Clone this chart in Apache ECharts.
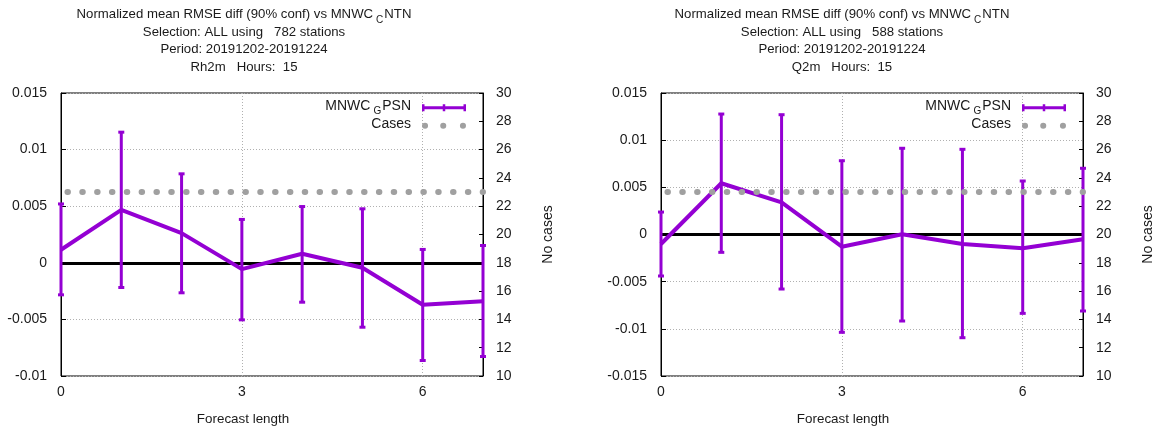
<!DOCTYPE html>
<html>
<head>
<meta charset="utf-8">
<script src="https://cdn.jsdelivr.net/npm/echarts@6/dist/echarts.min.js"></script>
<style>
  html, body { margin: 0; padding: 0; background: #fff; }
  #chart { width: 1161px; height: 434px; }
</style>
</head>
<body>
<div id="chart"></div>
<script>
// forecast length (hours)
const hours = [0, 1, 2, 3, 4, 5, 6, 7]

// Rh2m, 782 stations
const rh2mMean = [0.00115, 0.00468, 0.00262, -0.00056, 0.0008, -0.00044, -0.00371, -0.00339]
const rh2mLow = [-0.00283, -0.00218, -0.00265, -0.00504, -0.00348, -0.00569, -0.00863, -0.00828]
const rh2mHigh = [0.0052, 0.01154, 0.00786, 0.00383, 0.00497, 0.00477, 0.00118, 0.00153]
const rh2mCases = [23, 23, 23, 23, 23, 23, 23, 23]

// Q2m, 588 stations
const q2mMean = [-0.00101, 0.00543, 0.00341, -0.00129, 0.00002, -0.00101, -0.00146, -0.00051]
const q2mLow = [-0.0044, -0.00189, -0.00578, -0.01037, -0.00917, -0.01094, -0.00836, -0.00811]
const q2mHigh = [0.00238, 0.01277, 0.0127, 0.00782, 0.00914, 0.00903, 0.00567, 0.00702]
const q2mCases = [23, 23, 23, 23, 23, 23, 23, 23]

// axis ranges
const rh2mRange = [-0.01, 0.015]
const q2mRange = [-0.015, 0.015]
const casesRange = [10, 30]

const PURPLE = '#9400d3'
const GREY = '#a0a0a0'
const FONT = "'Liberation Sans', Arial, sans-serif"
const TXT = '#1a1a1a'

const ERR_ICON = 'path://M0,2 h44 v3 h-44 Z M0,0 h2.5 v7 h-2.5 Z M20.75,0 h2.5 v7 h-2.5 Z M41.5,0 h2.5 v7 h-2.5 Z'
const DOT_ICON = 'path://M0,3 a3,3 0 1,0 6,0 a3,3 0 1,0 -6,0 Z M18,3 a3,3 0 1,0 6,0 a3,3 0 1,0 -6,0 Z M37.5,3 a3,3 0 1,0 6,0 a3,3 0 1,0 -6,0 Z'

// legend text
const legendRich = {
  a: { fontFamily: FONT, fontSize: 14, fontWeight: 'normal', color: TXT, lineHeight: 17.5, verticalAlign: 'top' },
  s: { fontFamily: FONT, fontSize: 10, fontWeight: 'normal', color: TXT, lineHeight: 8, verticalAlign: 'bottom', padding: [0, 1, 0, 3] }
}
// title text, a bit narrower
const titleRich = {
  a: { fontFamily: FONT, fontSize: 13.2, fontWeight: 'normal', color: TXT, lineHeight: 17.5, verticalAlign: 'top' },
  s: { fontFamily: FONT, fontSize: 10, fontWeight: 'normal', color: TXT, lineHeight: 8, verticalAlign: 'bottom', padding: [0, 1, 0, 3] }
}

function titleText(varName, stations) {
  return [
    '{a|Normalized mean RMSE diff (90% conf) vs MNWC}{s|C}{a|NTN}',
    '{a|Selection: ALL using   ' + stations + ' stations}',
    '{a|Period: 20191202-20191224}',
    '{a|' + varName + '   Hours:  15}'
  ].join('\n')
}

function fmtTick(v) {
  return String(+v.toFixed(4))
}

function errorBars(params, api) {
  const x = api.value(0)
  const lo = api.coord([x, api.value(1)])
  const hi = api.coord([x, api.value(2)])
  const w = 3
  const style = { stroke: PURPLE, lineWidth: 3 }
  return {
    type: 'group',
    children: [
      { type: 'line', shape: { x1: lo[0], y1: lo[1], x2: hi[0], y2: hi[1] }, style },
      { type: 'line', shape: { x1: lo[0] - w, y1: lo[1], x2: lo[0] + w, y2: lo[1] }, style },
      { type: 'line', shape: { x1: hi[0] - w, y1: hi[1], x2: hi[0] + w, y2: hi[1] }, style }
    ]
  }
}

function xAxisFor(gi) {
  return {
    type: 'value', gridIndex: gi, min: 0, max: 7, interval: 3,
    axisLine: { show: true, lineStyle: { color: '#000' } },
    axisTick: { show: true, inside: true, length: 5, lineStyle: { color: '#000' } },
    axisLabel: { fontFamily: FONT, fontSize: 14, color: TXT, margin: 9, showMaxLabel: false },
    splitLine: { show: true, lineStyle: { color: '#b0b0b0', type: [1, 2] } }
  }
}

function leftAxisFor(gi, range) {
  return {
    type: 'value', gridIndex: gi, min: range[0], max: range[1], interval: 0.005,
    axisLine: { show: true, lineStyle: { color: '#000' } },
    axisTick: { show: true, inside: true, length: 5, lineStyle: { color: '#000' } },
    axisLabel: { fontFamily: FONT, fontSize: 14, color: TXT, margin: 14, formatter: fmtTick },
    splitLine: { show: true, lineStyle: { color: '#b0b0b0', type: [1, 2] } }
  }
}

function rightAxisFor(gi) {
  return {
    type: 'value', gridIndex: gi, position: 'right', min: casesRange[0], max: casesRange[1], interval: 2,
    name: 'No cases', nameLocation: 'middle', nameRotate: 90, nameGap: 58,
    nameTextStyle: { fontFamily: FONT, fontSize: 14, color: TXT },
    axisLine: { show: true, lineStyle: { color: '#000' } },
    axisTick: { show: true, inside: true, length: 4, lineStyle: { color: '#000' } },
    axisLabel: { fontFamily: FONT, fontSize: 14, color: TXT, margin: 13 },
    splitLine: { show: false }
  }
}

function seriesFor(gi, mean, low, high, cases) {
  const xi = gi, yi = gi * 2
  return [
    {
      name: 'errbars', type: 'custom', xAxisIndex: xi, yAxisIndex: yi, z: 3,
      renderItem: errorBars,
      data: hours.map((h, i) => [h, low[i], high[i]]),
      markLine: {
        silent: true, symbol: 'none', z: 2, label: { show: false },
        lineStyle: { color: '#000', width: 3, type: 'solid' },
        data: [{ yAxis: 0 }]
      }
    },
    {
      name: 'MNWC_GPSN', type: 'line', xAxisIndex: xi, yAxisIndex: yi, z: 4,
      symbol: 'none', color: PURPLE,
      lineStyle: { color: PURPLE, width: 4 },
      data: hours.map((h, i) => [h, mean[i]])
    },
    {
      name: 'Cases', type: 'line', xAxisIndex: xi, yAxisIndex: yi + 1, z: 5,
      symbol: 'none', color: GREY,
      lineStyle: { color: GREY, width: 6, type: [0.5, 14.33], cap: 'round', dashOffset: 8.38 },
      data: hours.map((h, i) => [h, cases[i]])
    }
  ]
}

function legendFor(right) {
  return {
    orient: 'vertical', right: right, top: 99, align: 'right',
    itemWidth: 44, itemHeight: 7, itemGap: 0.5, padding: 0,
    selectedMode: false,
    formatter: name => name === 'MNWC_GPSN' ? '{a|MNWC}{s|G}{a|PSN}' : '{a|Cases}',
    textStyle: { padding: [0, 6, 0, 0], rich: legendRich },
    data: [
      { name: 'MNWC_GPSN', icon: ERR_ICON, itemStyle: { color: PURPLE, borderWidth: 0 } },
      { name: 'Cases', icon: DOT_ICON, itemStyle: { color: GREY, borderWidth: 0 } }
    ]
  }
}

const chart = echarts.init(document.getElementById('chart'))

const option = {
  backgroundColor: '#fff',
  animation: false,
  title: [
    { text: titleText('Rh2m', 782), left: 244, top: 8, textAlign: 'center', padding: 0,
      textStyle: { fontWeight: 'normal', rich: titleRich } },
    { text: titleText('Q2m', 588), left: 842, top: 8, textAlign: 'center', padding: 0,
      textStyle: { fontWeight: 'normal', rich: titleRich } },
    { text: 'Forecast length', left: 243, top: 411, textAlign: 'center', padding: 0,
      textStyle: { fontFamily: FONT, fontSize: 13.4, fontWeight: 'normal', color: TXT, lineHeight: 16 } },
    { text: 'Forecast length', left: 843, top: 411, textAlign: 'center', padding: 0,
      textStyle: { fontFamily: FONT, fontSize: 13.4, fontWeight: 'normal', color: TXT, lineHeight: 16 } }
  ],
  legend: [legendFor(695), legendFor(95)],
  grid: [
    { left: 61, top: 93, width: 422, height: 283, show: true, borderColor: '#000', borderWidth: 1, backgroundColor: 'transparent' },
    { left: 661, top: 93, width: 422, height: 283, show: true, borderColor: '#000', borderWidth: 1, backgroundColor: 'transparent' }
  ],
  xAxis: [xAxisFor(0), xAxisFor(1)],
  yAxis: [leftAxisFor(0, rh2mRange), rightAxisFor(0), leftAxisFor(1, q2mRange), rightAxisFor(1)],
  series: [
    ...seriesFor(0, rh2mMean, rh2mLow, rh2mHigh, rh2mCases),
    ...seriesFor(1, q2mMean, q2mLow, q2mHigh, q2mCases)
  ]
}

chart.setOption(option)
</script>
</body>
</html>
